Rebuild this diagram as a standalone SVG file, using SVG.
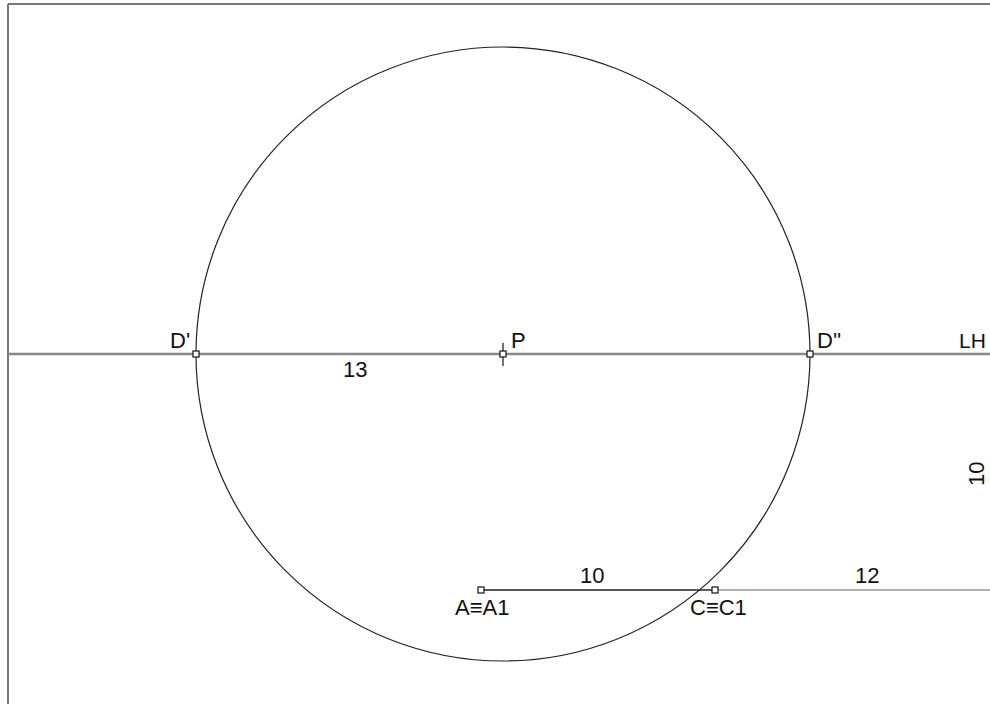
<svg xmlns="http://www.w3.org/2000/svg" width="990" height="704" viewBox="0 0 990 704">
<style>
text{font-family:"Liberation Sans",Arial,sans-serif;font-size:22px;fill:#111}
.pt{fill:#fff;stroke:#111;stroke-width:1.2}
</style>
<rect width="990" height="704" fill="#fff"/>
<g id="frame" fill="none" stroke="#777" stroke-width="2">
<line x1="8" y1="4" x2="990" y2="4"/>
<line x1="8" y1="4" x2="8" y2="704"/>
</g>
<g id="connectors" fill="none">
<line x1="8" y1="354" x2="990" y2="354" stroke="#888" stroke-width="2.4"/>
<circle cx="503" cy="354" r="307" stroke="#222" stroke-width="1.2"/>
<line x1="481" y1="590" x2="715" y2="590" stroke="#222" stroke-width="1.4"/>
<line x1="715" y1="590" x2="990" y2="590" stroke="#999" stroke-width="1.4"/>
<line x1="503" y1="343" x2="503" y2="366" stroke="#111" stroke-width="1.2"/>
</g>
<g id="Dp"><rect class="pt" x="193" y="351" width="6" height="6"/><text x="170" y="348">D'</text></g>
<g id="P"><rect class="pt" x="500" y="351" width="6" height="6"/><text x="511" y="348">P</text></g>
<g id="Dpp"><rect class="pt" x="807" y="351" width="6" height="6"/><text x="817" y="348">D''</text></g>
<g id="LH"><text x="959" y="348" style="font-size:21px">LH</text></g>
<g id="A"><rect class="pt" x="478" y="587" width="6" height="6"/><text x="455" y="615">A≡A1</text></g>
<g id="C"><rect class="pt" x="712" y="587" width="6" height="6"/><text x="690" y="615">C≡C1</text></g>
<g id="labels">
<text x="343" y="377">13</text>
<text x="580" y="583">10</text>
<text x="855" y="583">12</text>
<text transform="translate(984,486) rotate(-90)">10</text>
</g>
</svg>
